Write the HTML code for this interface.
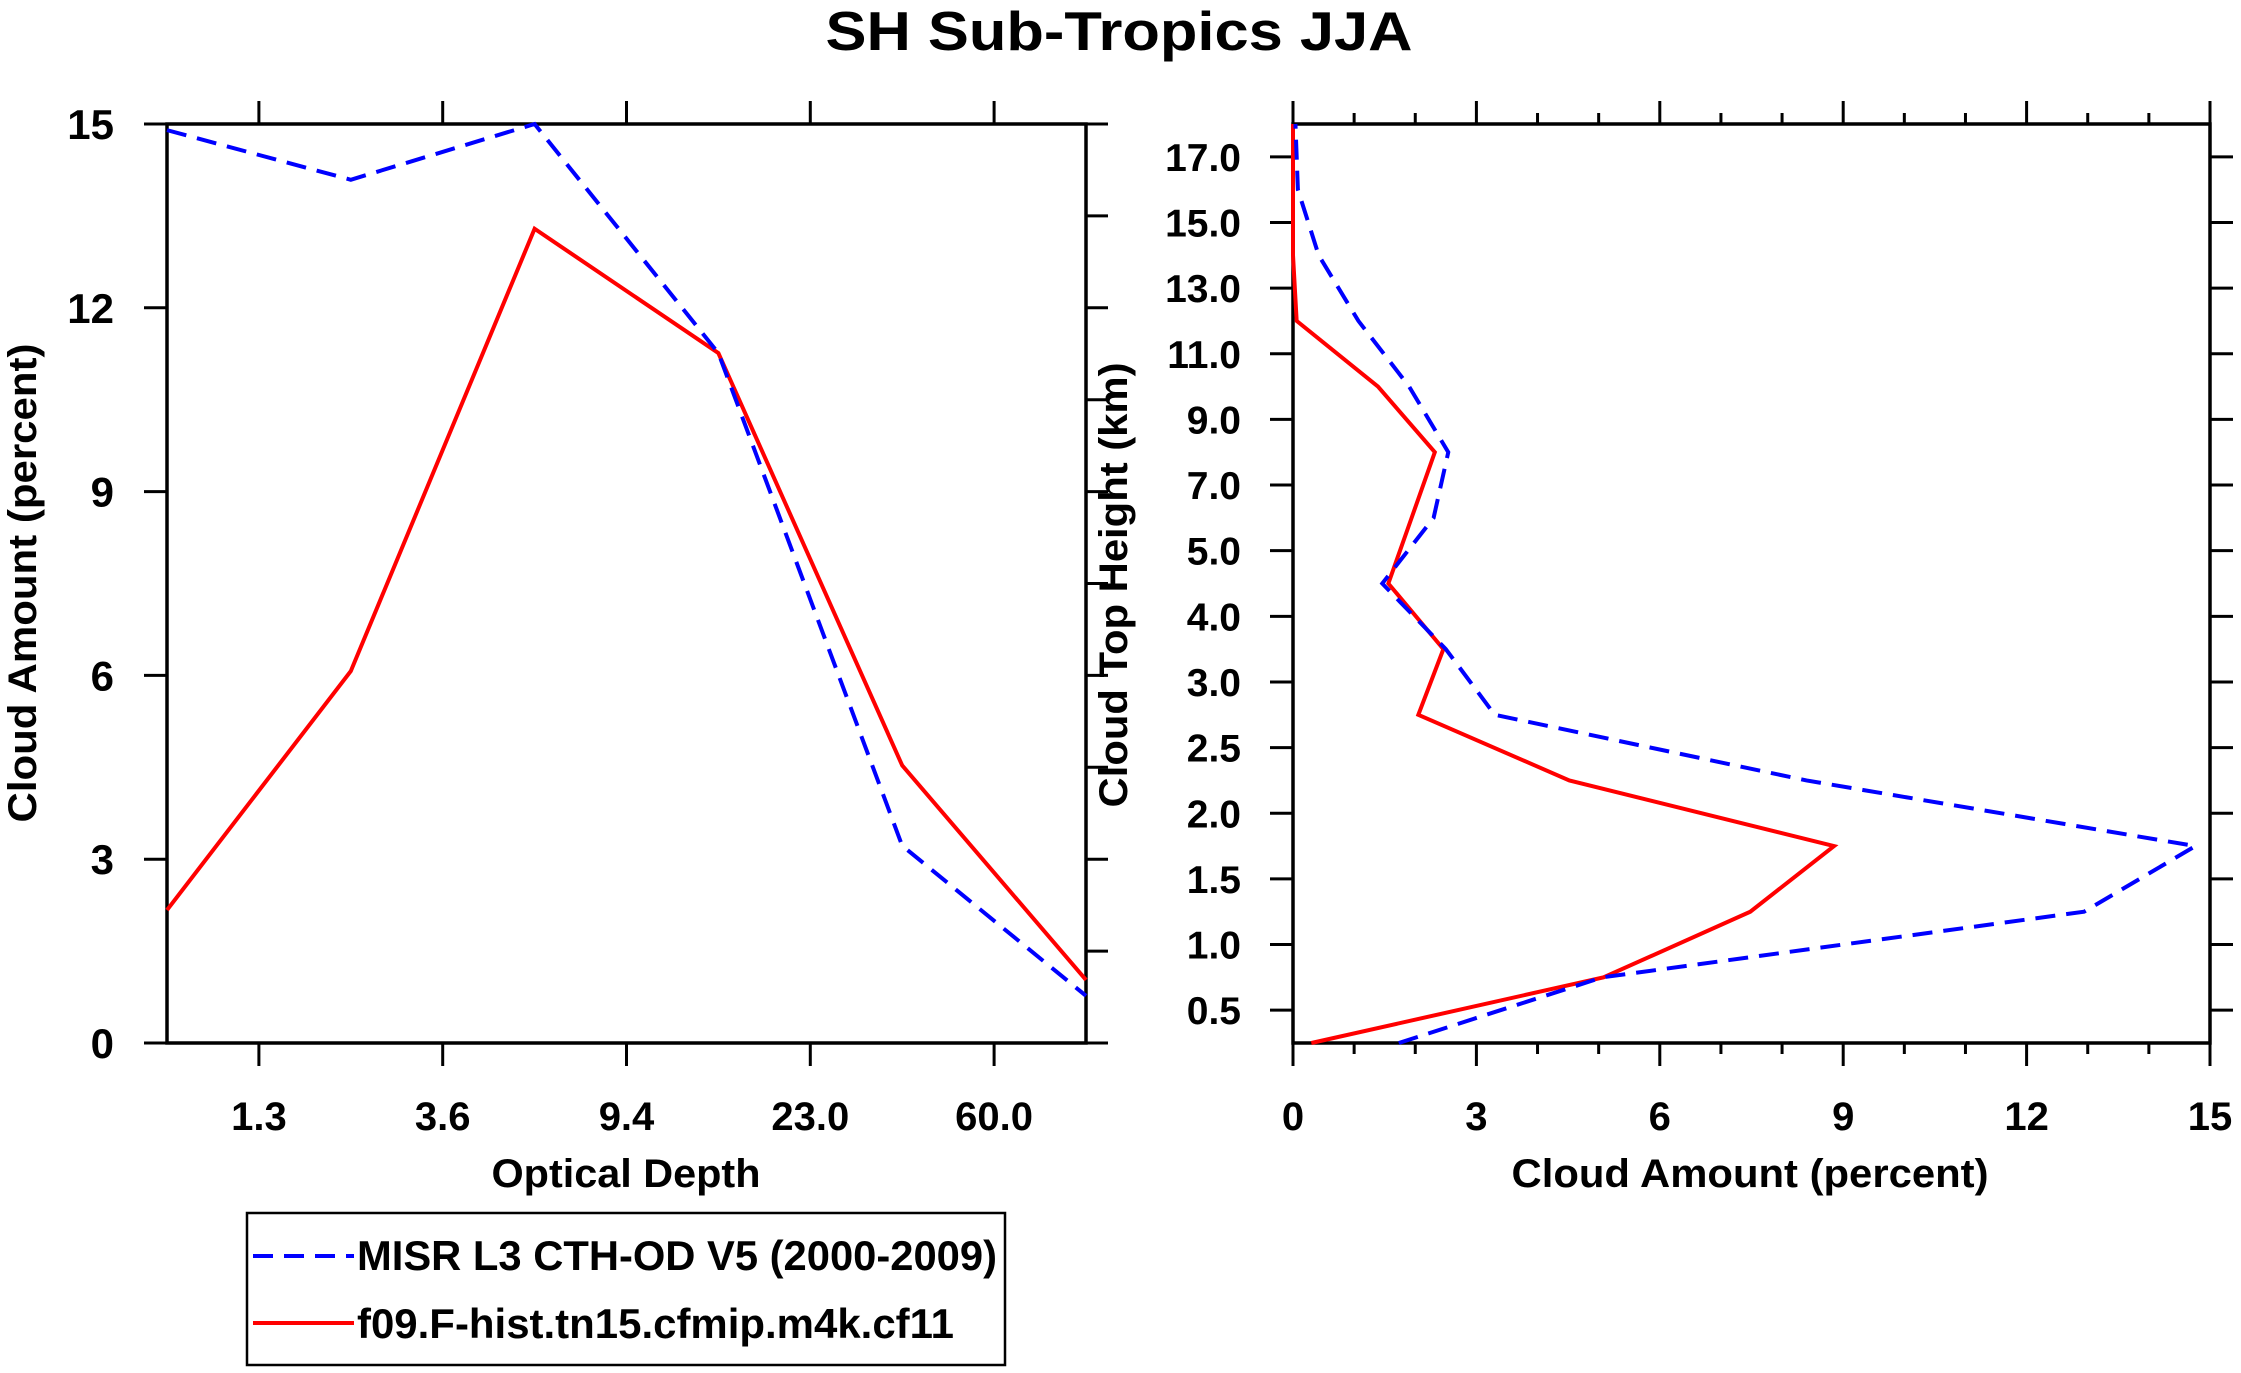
<!DOCTYPE html>
<html><head><meta charset="utf-8"><style>
html,body{margin:0;padding:0;background:#fff;}
svg{display:block;font-family:"Liberation Sans",sans-serif;font-weight:bold;}
</style></head><body>
<svg id="chart" width="2241" height="1373" viewBox="0 0 2241 1373" xmlns="http://www.w3.org/2000/svg">
<text x="1119" y="50" font-size="55" text-anchor="middle" textLength="587" lengthAdjust="spacingAndGlyphs">SH Sub-Tropics JJA</text>
<g id="left"></g>
<g id="right"></g>
<g>
<rect x="247" y="1213" width="758" height="152" fill="none" stroke="#000" stroke-width="2.5"/>
<line x1="253" y1="1256" x2="354" y2="1256" stroke="#0000ff" stroke-width="4" stroke-dasharray="20,11"/>
<text x="357" y="1270" font-size="42" textLength="640" lengthAdjust="spacingAndGlyphs">MISR L3 CTH-OD V5 (2000-2009)</text>
<line x1="253" y1="1323" x2="354" y2="1323" stroke="#ff0000" stroke-width="4"/>
<text x="357" y="1338" font-size="42" textLength="597" lengthAdjust="spacingAndGlyphs">f09.F-hist.tn15.cfmip.m4k.cf11</text>
</g>
</svg>
<script>
// Left panel data
const odTickLabels = ["1.3","3.6","9.4","23.0","60.0"];
const odMisr = [14.9, 14.09, 15.0, 11.26, 3.22, 0.77];
const odModel = [2.17, 6.07, 13.29, 11.26, 4.53, 1.03];
const caTicks = [0,3,6,9,12,15];
// Right panel data
const cthLabels = ["0.5","1.0","1.5","2.0","2.5","3.0","4.0","5.0","7.0","9.0","11.0","13.0","15.0","17.0"];
const cthMisr = [1.73, 5.06, 12.94, 14.76, 8.4, 3.3, 2.5, 1.46, 2.3, 2.54, 1.9, 1.07, 0.42, 0.08, 0.04];
const cthModel = [0.3, 5.08, 7.48, 8.85, 4.52, 2.05, 2.46, 1.56, 1.94, 2.32, 1.39, 0.06, 0, 0, 0];
const caTicksX = [0,3,6,9,12,15];

const NS="http://www.w3.org/2000/svg";
function mk(parent,tag,attrs,text){const e=document.createElementNS(NS,tag);for(const k in attrs)e.setAttribute(k,attrs[k]);if(text!==undefined)e.textContent=text;parent.appendChild(e);return e;}
const TOP=124, BOT=1043;

// LEFT
const L=document.getElementById('left');
const lx0=167, lx1=1086;
const lxs=i=>lx0+(lx1-lx0)*i/5;
const lys=v=>BOT-(BOT-TOP)*v/15;
odTickLabels.forEach((t,i)=>{
  const x=lxs(i+0.5);
  let e=mk(L,'line',{x1:x,y1:BOT,x2:x,y2:BOT+23,stroke:'#000','stroke-width':3});
  
  
  e=mk(L,'line',{x1:x,y1:TOP,x2:x,y2:TOP-23,stroke:'#000','stroke-width':3});
  
  
  e=mk(L,'text',{x:x,y:1130,'font-size':40,'text-anchor':'middle'},t);
  
  
});
caTicks.forEach(v=>{
  const y=lys(v);
  let e=mk(L,'line',{x1:lx0,y1:y,x2:lx0-23,y2:y,stroke:'#000','stroke-width':3});
  
  
  e=mk(L,'text',{x:114,y:y+15,'font-size':42,'text-anchor':'end'},String(v));
  
  
});
for(let j=0;j<=10;j++){
  const y=lys(j*1.5);
  const e=mk(L,'line',{x1:lx1,y1:y,x2:lx1+22,y2:y,stroke:'#000','stroke-width':3});
  
  
}
let fr=mk(L,'rect',{x:lx0,y:TOP,width:lx1-lx0,height:BOT-TOP,fill:'none',stroke:'#000','stroke-width':3.5});


let ln=mk(L,'polyline',{points:odModel.map((v,i)=>lxs(i)+','+lys(v)).join(' '),fill:'none',stroke:'#ff0000','stroke-width':4});


ln=mk(L,'polyline',{points:odMisr.map((v,i)=>lxs(i)+','+lys(v)).join(' '),fill:'none',stroke:'#0000ff','stroke-width':4,'stroke-dasharray':'20,11'});


let tt=mk(L,'text',{x:626,y:1187,'font-size':40,'text-anchor':'middle',textLength:269,lengthAdjust:'spacingAndGlyphs'},'Optical Depth');


tt=mk(L,'text',{x:0,y:0,'font-size':40,'text-anchor':'middle',textLength:479,lengthAdjust:'spacingAndGlyphs',transform:'translate(36,583) rotate(-90)'},'Cloud Amount (percent)');



// RIGHT
const R=document.getElementById('right');
const rx0=1293, rx1=2210;
const rxs=v=>rx0+(rx1-rx0)*v/15;
const step=(BOT-TOP)/14;
const rys=p=>BOT-step*(p+0.5);
const pys=k=>BOT-step*k;
for(let v=0;v<=15;v++){
  const x=rxs(v);const maj=(v%3===0);const len=maj?23:11;
  let e=mk(R,'line',{x1:x,y1:BOT,x2:x,y2:BOT+len,stroke:'#000','stroke-width':3});
  
  
  e=mk(R,'line',{x1:x,y1:TOP,x2:x,y2:TOP-len,stroke:'#000','stroke-width':3});
  
  
}
caTicksX.forEach(v=>{
  const e=mk(R,'text',{x:rxs(v),y:1130,'font-size':40,'text-anchor':'middle'},String(v));
  
  
});
cthLabels.forEach((t,i)=>{
  const y=rys(i);
  let e=mk(R,'line',{x1:rx0,y1:y,x2:rx0-23,y2:y,stroke:'#000','stroke-width':3});
  
  
  e=mk(R,'line',{x1:rx1,y1:y,x2:rx1+23,y2:y,stroke:'#000','stroke-width':3});
  
  
  e=mk(R,'text',{x:1241,y:y+14,'font-size':39,'text-anchor':'end'},t);
  
  
});
fr=mk(R,'rect',{x:rx0,y:TOP,width:rx1-rx0,height:BOT-TOP,fill:'none',stroke:'#000','stroke-width':3.5});


ln=mk(R,'polyline',{points:cthModel.map((v,k)=>rxs(v)+','+pys(k)).join(' '),fill:'none',stroke:'#ff0000','stroke-width':4});


ln=mk(R,'polyline',{points:cthMisr.map((v,k)=>rxs(v)+','+pys(k)).join(' '),fill:'none',stroke:'#0000ff','stroke-width':4,'stroke-dasharray':'20,11'});


tt=mk(R,'text',{x:1750,y:1187,'font-size':40,'text-anchor':'middle',textLength:477,lengthAdjust:'spacingAndGlyphs'},'Cloud Amount (percent)');


tt=mk(R,'text',{x:0,y:0,'font-size':40,'text-anchor':'middle',textLength:445,lengthAdjust:'spacingAndGlyphs',transform:'translate(1127,585) rotate(-90)'},'Cloud Top Height (km)');


</script>
</body></html>
